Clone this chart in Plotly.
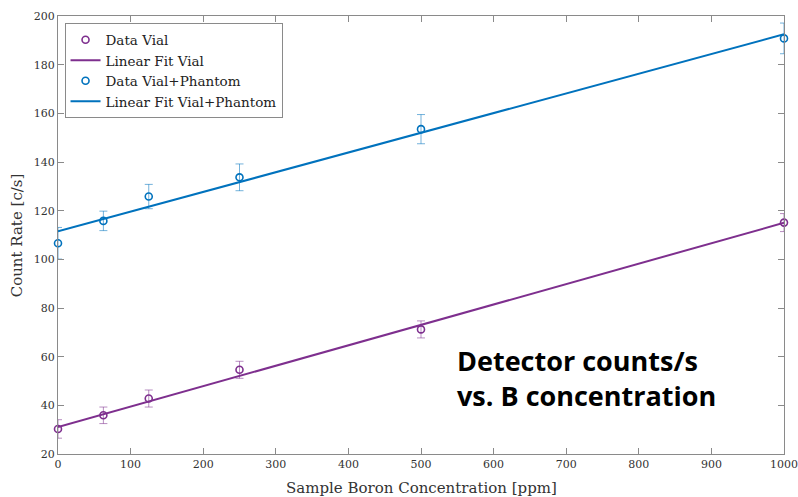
import plotly.graph_objects as go

conc = [0, 62.5, 125, 250, 500, 1000]
vial = [30.3, 35.9, 42.8, 54.6, 71.2, 115.1]
vial_err = [3.8, 3.4, 3.5, 3.5, 3.5, 3.7]
phantom = [106.6, 115.8, 125.8, 133.7, 153.5, 190.8]
phantom_err = [6.5, 4.0, 5.0, 5.5, 6.0, 6.3]
fit_x = [0, 1000]
fit_vial = [31.1, 115.0]
fit_phantom = [111.5, 192.5]

purple = "#7E2F8E"
blue = "#0072BD"
serif = "DejaVu Serif, serif"

fig = go.Figure()
fig.add_trace(go.Scatter(x=conc, y=vial, mode="markers", name="Data Vial", cliponaxis=False,
                         marker=dict(symbol="circle-open", size=7, color=purple, line=dict(width=1.6)),
                         error_y=dict(type="data", array=vial_err, color="rgba(126,47,142,0.55)", thickness=1, width=4)))
fig.add_trace(go.Scatter(x=fit_x, y=fit_vial, mode="lines", name="Linear Fit Vial",
                         line=dict(color=purple, width=2)))
fig.add_trace(go.Scatter(x=conc, y=phantom, mode="markers", name="Data Vial+Phantom", cliponaxis=False,
                         marker=dict(symbol="circle-open", size=7, color=blue, line=dict(width=1.6)),
                         error_y=dict(type="data", array=phantom_err, color="rgba(0,114,189,0.55)", thickness=1, width=4)))
fig.add_trace(go.Scatter(x=fit_x, y=fit_phantom, mode="lines", name="Linear Fit Vial+Phantom",
                         line=dict(color=blue, width=2)))

axis_common = dict(showgrid=False, zeroline=False, showline=True, linecolor="#8a8a8a", linewidth=1,
                   mirror="ticks", ticks="inside", ticklen=6, tickcolor="#8a8a8a", automargin=False,
                   ticklabeloverflow="allow",
                   tickfont=dict(family=serif, size=11, color="#333"))
fig.update_xaxes(range=[0, 1000], dtick=100, **axis_common)
fig.update_yaxes(range=[20, 200], dtick=20, **axis_common)

fig.add_annotation(x=0.5, y=-0.078, xref="paper", yref="paper", xanchor="center", yanchor="middle",
                   text="Sample Boron Concentration [ppm]", showarrow=False,
                   font=dict(family=serif, size=15, color="#333"))
fig.add_annotation(x=-0.056, y=0.5, xref="paper", yref="paper", xanchor="center", yanchor="middle",
                   text="Count Rate [c/s]", showarrow=False, textangle=-90,
                   font=dict(family=serif, size=15, color="#333"))

fig.add_annotation(x=0.547, y=0.174, xref="paper", yref="paper", xanchor="left", yanchor="middle",
                   text="Detector counts/s<br>vs. B concentration", showarrow=False, align="left",
                   font=dict(family="Open Sans", size=27, color="black", weight="bold"))

fig.update_layout(
    width=798, height=497,
    margin=dict(l=58, r=14, t=16, b=43),
    paper_bgcolor="white", plot_bgcolor="white",
    legend=dict(x=0.009, y=0.983, xanchor="left", yanchor="top", bgcolor="white",
                bordercolor="#8a8a8a", borderwidth=1,
                font=dict(family=serif, size=13.5, color="#222"),
                tracegroupgap=0, itemwidth=30),
    showlegend=True,
)
fig.write_html("out.html", config={"displayModeBar": False},
               post_script="document.body.style.margin='0';document.body.style.overflow='hidden';")
